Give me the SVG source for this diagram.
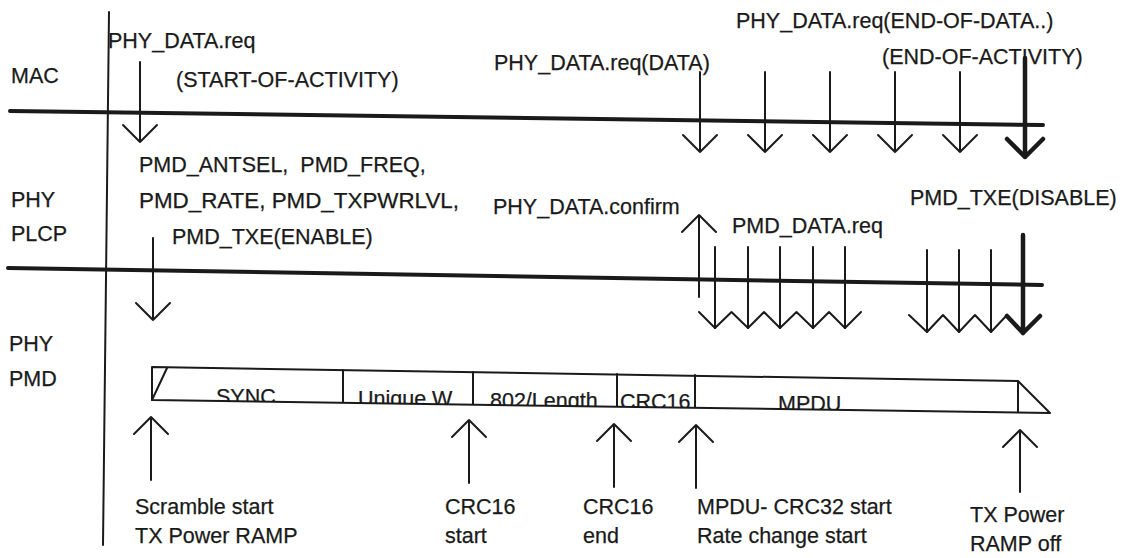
<svg xmlns="http://www.w3.org/2000/svg" width="1123" height="558" viewBox="0 0 1123 558">
<style>
text{font-family:"Liberation Sans",Arial,sans-serif;font-size:21.5px;fill:#1a1a1a;stroke:#1a1a1a;stroke-width:0.25;white-space:pre}
.ln{stroke:#1a1a1a;fill:none;stroke-width:2;stroke-linecap:round;stroke-linejoin:round}
.bus{stroke:#1a1a1a;fill:none;stroke-width:4;stroke-linecap:round}
.thk{stroke:#1a1a1a;fill:none;stroke-width:4.5;stroke-linecap:round;stroke-linejoin:round}
</style>
<defs>
<clipPath id="barclip"><path d="M152,367 L1018,381 L1050,413 L152,400 Z"/></clipPath>
</defs>
<rect width="1123" height="558" fill="#ffffff"/>
<g id="layers">
<text x="11" y="83">MAC</text>
<text x="11" y="207">PHY</text>
<text x="11" y="241">PLCP</text>
<text x="9" y="351">PHY</text>
<text x="9" y="386">PMD</text>
</g>
<g id="axes">
<path class="ln" d="M109,12 L103,545"/>
<path class="bus" d="M10,111 L1043,125"/>
<path class="bus" d="M8,268 L1042,285"/>
</g>
<g id="labels">
<text x="108" y="48">PHY_DATA.req</text>
<text x="176" y="87">(START-OF-ACTIVITY)</text>
<text x="494" y="70">PHY_DATA.req(DATA)</text>
<text x="736" y="28">PHY_DATA.req(END-OF-DATA..)</text>
<text x="882" y="64">(END-OF-ACTIVITY)</text>
<text x="139" y="172" xml:space="preserve">PMD_ANTSEL,  PMD_FREQ,</text>
<text x="139" y="208" textLength="320" lengthAdjust="spacingAndGlyphs">PMD_RATE, PMD_TXPWRLVL,</text>
<text x="172" y="244">PMD_TXE(ENABLE)</text>
<text x="493" y="214">PHY_DATA.confirm</text>
<text x="732" y="233">PMD_DATA.req</text>
<text x="910" y="205">PMD_TXE(DISABLE)</text>
</g>
<g id="connectors">
<path class="ln" d="M140,62 V142 M123,125 L140,142 L157,125"/>
<path class="ln" d="M153,238 V320 M136,303 L153,320 L170,303"/>
<path class="ln" d="M700,72 V152 M683,135 L700,152 L717,135"/>
<path class="ln" d="M765,72 V152 M748,135 L765,152 L782,135"/>
<path class="ln" d="M830,72 V152 M813,135 L830,152 L847,135"/>
<path class="ln" d="M895,72 V152 M878,135 L895,152 L912,135"/>
<path class="ln" d="M960,72 V152 M943,135 L960,152 L977,135"/>
<path class="thk" d="M1025,58 V157 M1007,139 L1025,157 L1043,139"/>
<path class="ln" d="M699,297 V215 M682,232 L699,215 L716,232"/>
<path class="ln" d="M715,247 V328 M748,247 V328 M780,247 V328 M813,247 V328 M845,247 V328"/>
<path class="ln" d="M699,312 L715,328 L731.5,312 L748,328 L764,312 L780,328 L796.5,312 L813,328 L829,312 L845,328 L861,312"/>
<path class="ln" d="M927,250 V332 M959,250 V332 M991,250 V332"/>
<path class="ln" d="M909,315 L927,332 L943,315 L959,332 L975,315 L991,332 L1007,315"/>
<path class="thk" d="M1023,235 V333 M1007,316 L1023,333 L1040,316"/>
<path class="ln" d="M151,480 V417 M134,434 L151,417 L168,434"/>
<path class="ln" d="M469,483 V420 M452,437 L469,420 L486,437"/>
<path class="ln" d="M614,487 V424 M597,441 L614,424 L631,441"/>
<path class="ln" d="M696,488 V425 M679,442 L696,425 L713,442"/>
<path class="ln" d="M1020,492 V430 M1003,447 L1020,430 L1037,447"/>
</g>
<g id="packet">
<g clip-path="url(#barclip)">
<text x="216" y="404">SYNC</text>
<text x="358" y="406">Unique W</text>
<text x="490" y="408">802/Length</text>
<text x="620" y="409">CRC16</text>
<text x="778" y="411">MPDU</text>
</g>
<path class="ln" d="M152,367 L1018,381 L1050,413 L152,400 Z"/>
<path class="ln" d="M152,400 L167,368 M343,370 V402 M473,372 V404 M617,374 V406 M695,375 V407 M1018,381 V412"/>
</g>
<g id="markers">
<text x="135" y="514">Scramble start</text>
<text x="135" y="543">TX Power RAMP</text>
<text x="445" y="514">CRC16</text>
<text x="445" y="543">start</text>
<text x="583" y="514">CRC16</text>
<text x="583" y="543">end</text>
<text x="697" y="514">MPDU- CRC32 start</text>
<text x="697" y="543">Rate change start</text>
<text x="970" y="522">TX Power</text>
<text x="970" y="551">RAMP off</text>
</g>
</svg>
